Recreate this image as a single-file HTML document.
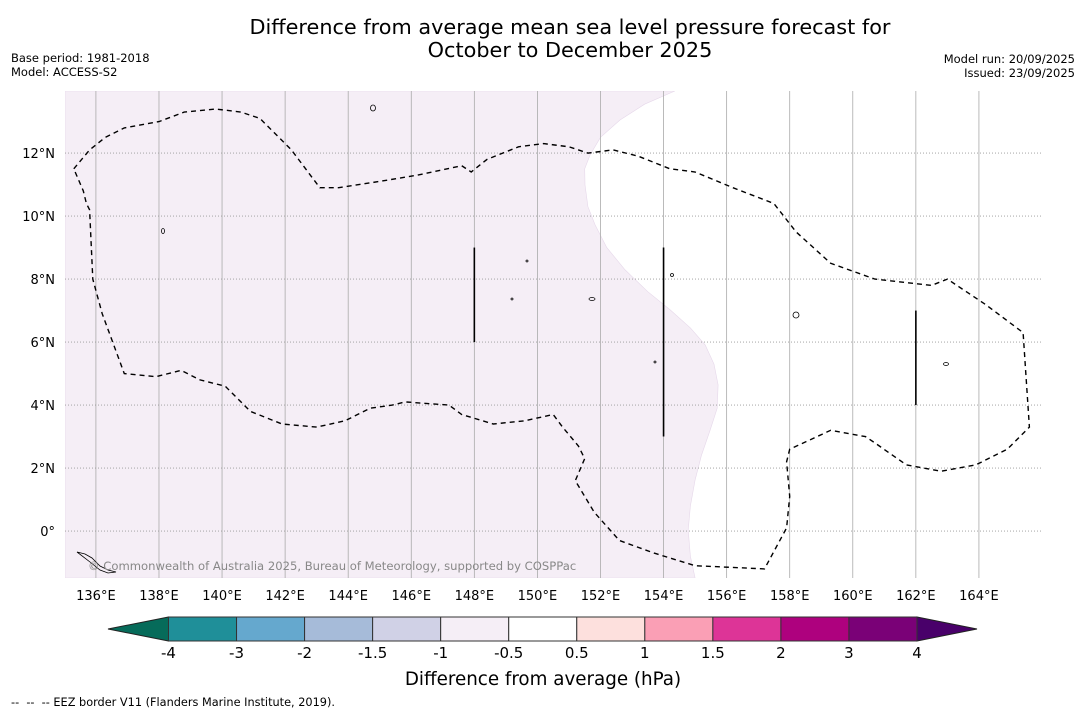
<!DOCTYPE html>
<html><head><meta charset="utf-8"><style>
body{margin:0;background:#fff;font-family:"DejaVu Sans","Liberation Sans",sans-serif;}
svg text{font-family:"DejaVu Sans","Liberation Sans",sans-serif;}
</style></head><body>
<svg id="chart" width="1085" height="713" viewBox="0 0 1085 713" xmlns="http://www.w3.org/2000/svg">
<rect width="1085" height="713" fill="#fff"/>
<text x="570" y="34" font-size="20.8" text-anchor="middle">Difference from average mean sea level pressure forecast for</text>
<text x="570" y="57" font-size="20.8" text-anchor="middle">October to December 2025</text>
<text x="11" y="62" font-size="11.5">Base period: 1981-2018</text>
<text x="11" y="76" font-size="11.5">Model: ACCESS-S2</text>
<text x="1075" y="63" font-size="11.5" text-anchor="end">Model run: 20/09/2025</text>
<text x="1075" y="77" font-size="11.5" text-anchor="end">Issued: 23/09/2025</text>
<g id="map"></g>
<g id="cbar"></g>
<text x="543" y="685" font-size="18.3" text-anchor="middle">Difference from average (hPa)</text>
<text x="11" y="706" font-size="11.3" xml:space="preserve">--  --  -- EEZ border V11 (Flanders Marine Institute, 2019).</text>
</svg>
<script>
const lonTicks=[136,138,140,142,144,146,148,150,152,154,156,158,160,162,164];
const latTicks=[0,2,4,6,8,10,12];
const levels=[-4,-3,-2,-1.5,-1,-0.5,0.5,1,1.5,2,3,4];
const levelColors=["#1f8f99","#65a8ce","#a6bbd9","#d0d1e6","#f5eef6","#ffffff","#fde0dd","#fa9fb5","#dd3497","#ae017e","#7a0177"];
const extendColors=["#066b5a","#49006a"];
// anomaly zone (purple, -1..-0.5) boundary in lon/lat
const zoneLon=[154.36,153.4,152.62,152.0,151.67,151.5,151.51,151.6,151.83,152.2,152.78,153.5,154.21,154.85,155.32,155.6,155.73,155.7,155.48,155.2,155.0,154.85,154.78,154.85,155.0];
const zoneLat=[13.97,13.55,13.05,12.5,11.94,11.5,10.99,10.3,9.72,9.0,8.29,7.6,7.02,6.45,5.91,5.3,4.64,3.9,3.21,2.4,1.62,0.8,0.03,-0.8,-1.49];
// EEZ border lon/lat
const eezLon=[135.3,135.8,136.3,136.9,138.0,138.8,139.8,140.6,141.2,142.2,143.1,143.7,145.0,146.2,147.6,147.9,148.4,149.4,150.2,151.0,151.6,152.4,153.2,154.2,155.0,156.2,157.5,158.2,159.3,160.7,162.5,163.0,164.2,165.4,165.6,164.9,163.9,162.8,161.7,160.7,160.4,159.3,158.0,157.9,158.0,157.9,157.2,155.0,153.7,152.6,151.8,151.2,151.5,151.3,150.8,150.5,149.6,148.6,147.6,147.2,145.8,145.4,144.7,143.9,143.0,141.9,140.9,140.1,139.3,138.7,137.9,136.9,136.2,135.9,135.8,135.7,135.6,135.3];
const eezLat=[11.5,12.1,12.5,12.8,13.0,13.3,13.4,13.3,13.1,12.1,10.9,10.9,11.1,11.3,11.6,11.4,11.8,12.2,12.3,12.2,12.0,12.1,11.9,11.5,11.4,10.9,10.4,9.5,8.5,8.0,7.8,8.0,7.2,6.3,3.3,2.6,2.1,1.9,2.1,2.8,3.0,3.2,2.6,2.2,1.1,0.1,-1.2,-1.1,-0.7,-0.3,0.6,1.6,2.3,2.7,3.3,3.7,3.5,3.4,3.7,4.0,4.1,4.0,3.9,3.5,3.3,3.4,3.8,4.6,4.8,5.1,4.9,5.0,6.9,8.0,10.2,10.4,10.8,11.5];
// lon, latTop, latBottom of vertical solid lines
const vLon=[148,154,162];
const vTop=[9,9,7];
const vBot=[6,3,4];
const ns="http://www.w3.org/2000/svg";
const X0=65,X1=1042,Y0=91,Y1=578;
const lonMin=135.02,lonMax=166.0,latMin=-1.49,latMax=13.97;
const xs=l=>X0+(l-lonMin)/(lonMax-lonMin)*(X1-X0);
const ys=l=>Y1-(l-latMin)/(latMax-latMin)*(Y1-Y0);
function mk(t,a,p){const e=document.createElementNS(ns,t);for(const k in a)e.setAttribute(k,a[k]);p.appendChild(e);return e;}
const map=document.getElementById('map');
const defs=mk('defs',{},map);const cp=mk('clipPath',{id:'cp'},defs);mk('rect',{x:X0,y:Y0,width:X1-X0,height:Y1-Y0},cp);
const bg=mk('rect',{x:X0,y:Y0,width:X1-X0,height:Y1-Y0,fill:'#fff'},map);


let d='M'+X0+','+Y0;
zoneLon.forEach((l,i)=>{d+=' L'+xs(l).toFixed(1)+','+ys(zoneLat[i]).toFixed(1);});
d+=' L'+X0+','+Y1+' Z';
const zone=mk('path',{d:d,fill:'#f5eef6',stroke:'#e6d8ea','stroke-width':0.6,'clip-path':'url(#cp)'},map);


lonTicks.forEach(l=>{
 const g=mk('line',{x1:xs(l),x2:xs(l),y1:Y0,y2:Y1,stroke:'#aaa','stroke-width':0.8},map);
 
 
 const t=mk('text',{x:xs(l),y:600,'font-size':13,'text-anchor':'middle'},map);t.textContent=l+'°E';
 
 
});
latTicks.forEach(l=>{
 const g=mk('line',{x1:X0,x2:X1,y1:ys(l),y2:ys(l),stroke:'#999','stroke-width':0.8,'stroke-dasharray':'1,2'},map);
 
 
 const t=mk('text',{x:55,y:ys(l)+5,'font-size':13,'text-anchor':'end'},map);t.textContent=l===0?'0°':l+'°N';
 
 
});
let e='';eezLon.forEach((l,i)=>{e+=(i?' L':'M')+xs(l).toFixed(1)+','+ys(eezLat[i]).toFixed(1);});
const eez=mk('path',{d:e,fill:'none',stroke:'#000','stroke-width':1.4,'stroke-dasharray':'5,4'},map);


vLon.forEach((l,i)=>{
 const v=mk('line',{x1:xs(l),x2:xs(l),y1:ys(vTop[i]),y2:ys(vBot[i]),stroke:'#000','stroke-width':1.6},map);
 
 
});
[[373,108,2.5,3],[163,231,1.5,2.5],[592,299,3,1.5],[796,315,3,3],[672,275,1.5,1.5],[946,364,2.5,1.5],[655,362,1,1],[527,261,1,1],[512,299,1,1]].forEach(p=>{
 const s=mk('ellipse',{cx:p[0],cy:p[1],rx:p[2],ry:p[3],fill:'none',stroke:'#000','stroke-width':0.8},map);
 
 
});
const isl=mk('path',{d:'M77,552 L85,554 L92,558 L96,562 L100,566 L108,570 L116,572 L108,573 L100,570 L90,562 Z',fill:'none',stroke:'#000','stroke-width':0.8},map);


const cr=mk('text',{x:88,y:570,'font-size':11.6,fill:'#888'},map);cr.textContent='© Commonwealth of Australia 2025, Bureau of Meteorology, supported by COSPPac';


// colorbar
const cb=document.getElementById('cbar');
const CB0=168.5,CB1=917,CT=617,CBt=641,n=levelColors.length,w=(CB1-CB0)/n;
const lx=i=>CB0+i*w;
const le=mk('polygon',{points:`${CB0},${CT} ${CB0},${CBt} 108,629`,fill:extendColors[0],stroke:'#222','stroke-width':1},cb);


const re=mk('polygon',{points:`${CB1},${CT} ${CB1},${CBt} 977,629`,fill:extendColors[1],stroke:'#222','stroke-width':1},cb);


levelColors.forEach((c,i)=>{
 const r=mk('rect',{x:lx(i),y:CT,width:w,height:CBt-CT,fill:c,stroke:'#333','stroke-width':1},cb);
 
 
});
levels.forEach((v,i)=>{
 const t=mk('text',{x:lx(i),y:658,'font-size':15,'text-anchor':'middle'},cb);t.textContent=v;
 
 
});
</script>
</body></html>
